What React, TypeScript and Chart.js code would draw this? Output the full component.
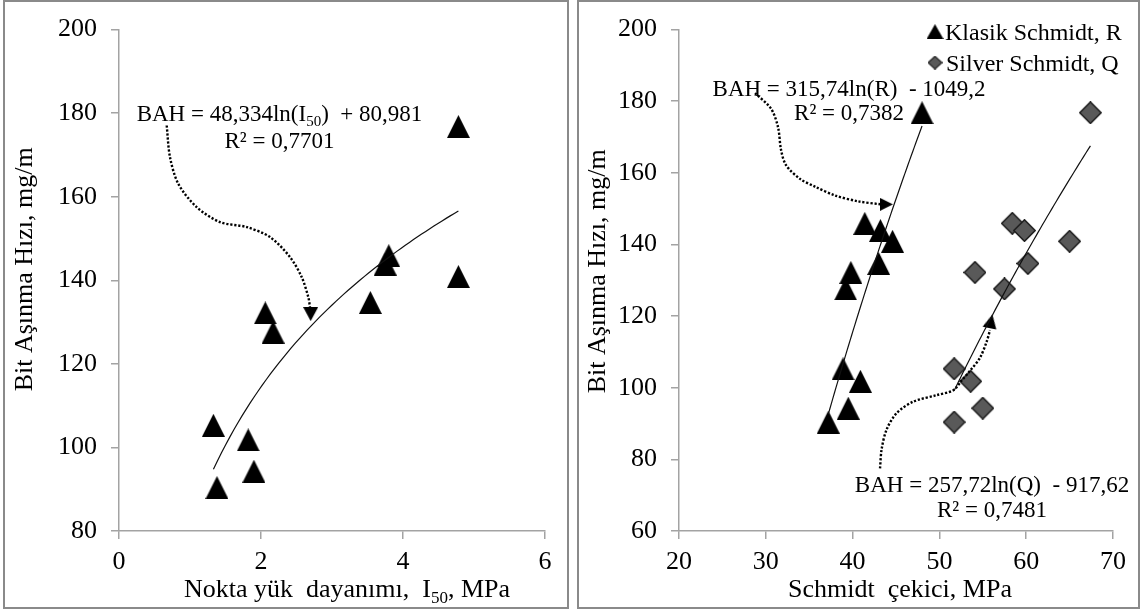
import React, { useEffect, useRef } from "react";
import { Chart, registerables } from "chart.js";

Chart.register(...registerables);

const FONT = '"Liberation Serif", "Times New Roman", serif';
const AXIS = "#a3a3a3";

// Bit wear rate (BAH, mg/m) of the samples
const BAH = [176.8, 145.9, 143.9, 140.9, 134.7, 132.2, 127.6, 105.3, 101.8, 94.3, 90.4];
// Point load strength I50 (MPa) of the same samples
const I50 = [4.78, 3.8, 3.75, 4.78, 3.54, 2.06, 2.17, 1.33, 1.82, 1.9, 1.38];
// Classic Schmidt hammer, R
const SCHMIDT_R = [48.0, 41.4, 43.2, 44.6, 43.0, 39.8, 39.2, 38.9, 40.9, 39.5, 37.2];
// Silver Schmidt hammer, Q
const SCHMIDT_Q = [67.4, 58.4, 59.8, 65.0, 60.2, 54.1, 57.5, 51.7, 53.6, 55.0, 51.7];

const LEFT_X_TICKS = [0, 2, 4, 6];
const LEFT_Y_TICKS = [80, 100, 120, 140, 160, 180, 200];
const RIGHT_X_TICKS = [20, 30, 40, 50, 60, 70];
const RIGHT_Y_TICKS = [60, 80, 100, 120, 140, 160, 180, 200];

const LEGEND_LABELS = ["Klasik Schmidt, R", "Silver Schmidt, Q"];

// logarithmic trendlines shown on the chart: y = a ln(x) + b
const FIT_I50 = { a: 48.334, b: 80.981 };
const FIT_R = { a: 315.74, b: -1049.2 };
const FIT_Q = { a: 257.72, b: -917.62 };

// dotted callout arrows (data coordinates)
const ARROW_I50 = [[0.672, 177.05], [0.718, 169.47], [0.835, 163.11], [1.094, 157.52], [1.423, 153.93], [1.799, 152.74], [2.127, 150.35], [2.408, 145.57], [2.573, 140.78], [2.666, 136.0], [2.69, 133.6]];
const ARROW_I50_HEAD = [2.7, 131.9];
const ARROW_R = [[28.76, 182.29], [30.6, 177.94], [31.41, 172.76], [31.75, 166.49], [32.33, 162.14], [33.94, 158.32], [35.67, 156.14], [37.97, 153.69], [40.62, 152.06], [43.16, 151.24]];
const ARROW_R_HEAD = [43.9, 151.2];
const ARROW_Q = [[43.16, 77.5], [43.35, 82.95], [43.93, 88.4], [45.08, 92.94], [46.99, 96.13], [49.69, 97.93], [51.6, 99.29], [52.57, 102.02], [53.53, 104.74], [54.68, 108.39], [55.45, 112.91], [55.83, 116.1]];
const ARROW_Q_HEAD = [55.94, 118.55];

type Part = { t: string; sub?: boolean };

function fitPoints(fit: { a: number; b: number }, xs: number[]) {
  const lo = Math.min(...xs);
  const hi = Math.max(...xs);
  const pts: { x: number; y: number }[] = [];
  for (let i = 0; i <= 60; i++) {
    const x = lo + ((hi - lo) * i) / 60;
    pts.push({ x, y: fit.a * Math.log(x) + fit.b });
  }
  return pts;
}

function makeMarker(kind: "tri" | "dia", w: number, h: number, fill: string, stroke: string, lw: number) {
  const c = document.createElement("canvas");
  c.width = w;
  c.height = h;
  const g = c.getContext("2d")!;
  const p = lw / 2;
  g.beginPath();
  if (kind === "tri") {
    g.moveTo(w / 2, p);
    g.lineTo(w - p, h - p);
    g.lineTo(p, h - p);
  } else {
    g.moveTo(w / 2, p);
    g.lineTo(w - p, h / 2);
    g.lineTo(w / 2, h - p);
    g.lineTo(p, h / 2);
  }
  g.closePath();
  g.fillStyle = fill;
  g.fill();
  if (lw > 0) {
    g.lineWidth = lw;
    g.strokeStyle = stroke;
    g.stroke();
  }
  return c;
}

function drawParts(ctx: CanvasRenderingContext2D, parts: Part[], x0: number, baseY: number, size: number, align: "center" | "left" = "center") {
  const subSize = Math.round(size * 0.65);
  let w = 0;
  const widths = parts.map((p) => {
    ctx.font = `${p.sub ? subSize : size}px ${FONT}`;
    const m = ctx.measureText(p.t).width;
    w += m;
    return m;
  });
  let x = align === "center" ? x0 - w / 2 : x0;
  ctx.textAlign = "left";
  ctx.textBaseline = "alphabetic";
  parts.forEach((p, i) => {
    ctx.font = `${p.sub ? subSize : size}px ${FONT}`;
    ctx.fillText(p.t, x, baseY + (p.sub ? size * 0.22 : 0));
    x += widths[i];
  });
}

function axis(ticksArr: number[], pos: "left" | "bottom", pad: number) {
  return {
    type: "linear" as const,
    position: pos,
    min: ticksArr[0],
    max: ticksArr[ticksArr.length - 1],
    afterBuildTicks: (s: any) => {
      s.ticks = ticksArr.map((v) => ({ value: v }));
    },
    ticks: {
      color: "#000",
      font: { family: FONT, size: 26 },
      padding: pad,
      maxRotation: 0,
      autoSkip: false,
    },
    grid: { drawOnChartArea: false, drawTicks: true, tickLength: 8, color: AXIS, lineWidth: 1.5 },
    border: { display: true, color: AXIS, width: 1.5 },
    afterFit: (s: any) => {
      if (pos === "left") s.width = 60;
      else s.height = 50;
    },
  };
}

const toXY = (arr: number[][]) => arr.map(([x, y]) => ({ x, y }));

export default function App() {
  const leftRef = useRef<HTMLCanvasElement>(null);
  const rightRef = useRef<HTMLCanvasElement>(null);

  useEffect(() => {
    const tri = makeMarker("tri", 23, 23, "#000", "#000", 0);
    const dia = makeMarker("dia", 23, 23, "#595959", "#1e1e1e", 1.6);
    const headL = makeMarker("tri", 15, 14, "#000", "#000", 0);
    const headR1 = makeMarker("tri", 13, 13, "#000", "#000", 0);
    const headR2 = makeMarker("tri", 14, 14, "#000", "#000", 0);
    const triLeg = makeMarker("tri", 17, 15, "#000", "#000", 0);
    const diaLeg = makeMarker("dia", 15, 14, "#595959", "#1e1e1e", 1.2);

    const lineDs = (data: any[], extra: any = {}) => ({
      data,
      showLine: true,
      pointRadius: 0,
      borderColor: "#111",
      borderWidth: 1.2,
      fill: false,
      order: 0,
      ...extra,
    });
    const arrowDs = (data: any[]) =>
      lineDs(data, { borderColor: "#000", borderWidth: 2.4, borderDash: [2.2, 1.8], tension: 0.3 });
    const headDs = (pt: number[], img: HTMLCanvasElement, rot: number) => ({
      data: [{ x: pt[0], y: pt[1] }],
      showLine: false,
      pointStyle: img,
      pointRadius: 6,
      rotation: rot,
      order: 0,
    });

    const textPluginLeft = {
      id: "leftText",
      afterDraw(chart: any) {
        const { ctx, chartArea: a, scales } = chart;
        const xs = scales.x;
        const ys = scales.y;
        ctx.save();
        ctx.fillStyle = "#000";
        // y title
        ctx.save();
        ctx.translate(a.left - 87.5, (a.top + a.bottom) / 2 - 11);
        ctx.rotate(-Math.PI / 2);
        drawParts(ctx, [{ t: "Bit Aşınma Hızı, mg/m" }], 0, 0, 26);
        ctx.restore();
        // x title
        drawParts(
          ctx,
          [{ t: "Nokta yük  dayanımı,  I" }, { t: "50", sub: true }, { t: ", MPa" }],
          (a.left + a.right) / 2 + 15,
          a.bottom + 66,
          26
        );
        // equation
        const cx = xs.getPixelForValue(2.26);
        drawParts(ctx, [{ t: "BAH = 48,334ln(I" }, { t: "50", sub: true }, { t: ")  + 80,981" }], cx, ys.getPixelForValue(178.1), 23);
        drawParts(ctx, [{ t: "R² = 0,7701" }], cx, ys.getPixelForValue(171.7), 23);
        ctx.restore();
      },
    };

    const textPluginRight = {
      id: "rightText",
      afterDraw(chart: any) {
        const { ctx, chartArea: a, scales } = chart;
        const xs = scales.x;
        const ys = scales.y;
        ctx.save();
        ctx.fillStyle = "#000";
        ctx.save();
        ctx.translate(a.left - 74, (a.top + a.bottom) / 2 - 9);
        ctx.rotate(-Math.PI / 2);
        drawParts(ctx, [{ t: "Bit Aşınma Hızı, mg/m" }], 0, 0, 26);
        ctx.restore();
        drawParts(ctx, [{ t: "Schmidt  çekici, MPa" }], (a.left + a.right) / 2 + 4, a.bottom + 66, 26);
        const c1 = xs.getPixelForValue(39.59);
        drawParts(ctx, [{ t: "BAH = 315,74ln(R)  - 1049,2" }], c1, ys.getPixelForValue(181.48), 23);
        drawParts(ctx, [{ t: "R² = 0,7382" }], c1, ys.getPixelForValue(174.67), 23);
        const c2 = xs.getPixelForValue(56.06);
        drawParts(ctx, [{ t: "BAH = 257,72ln(Q)  - 917,62" }], c2, ys.getPixelForValue(70.96), 23);
        drawParts(ctx, [{ t: "R² = 0,7481" }], c2, ys.getPixelForValue(63.88), 23);
        // legend
        const mx = a.right - 178;
        ctx.drawImage(triLeg, mx - triLeg.width / 2, a.top + 2 - triLeg.height / 2);
        ctx.drawImage(diaLeg, mx - diaLeg.width / 2, a.top + 33 - diaLeg.height / 2);
        drawParts(ctx, [{ t: LEGEND_LABELS[0] }], a.right - 168, a.top + 10, 24, "left");
        drawParts(ctx, [{ t: LEGEND_LABELS[1] }], a.right - 167, a.top + 41.5, 24, "left");
        ctx.restore();
      },
    };

    const left = new Chart(leftRef.current!, {
      type: "scatter",
      data: {
        datasets: [
          {
            label: "I50",
            data: I50.map((x, i) => ({ x, y: BAH[i] })),
            pointStyle: tri,
            pointRadius: 6,
            order: 1,
          } as any,
          lineDs(fitPoints(FIT_I50, I50)),
          arrowDs(toXY(ARROW_I50)),
          headDs(ARROW_I50_HEAD, headL, 180),
        ],
      },
      options: {
        responsive: false,
        animation: false,
        events: [],
        layout: { padding: { left: 59, right: 598, top: 29, bottom: 30 } },
        plugins: { legend: { display: false }, tooltip: { enabled: false } },
        scales: {
          x: axis(LEFT_X_TICKS, "bottom", 8),
          y: axis(LEFT_Y_TICKS, "left", 14),
        } as any,
      },
      plugins: [textPluginLeft],
    });

    const right = new Chart(rightRef.current!, {
      type: "scatter",
      data: {
        datasets: [
          {
            label: LEGEND_LABELS[0],
            data: SCHMIDT_R.map((x, i) => ({ x, y: BAH[i] })),
            pointStyle: tri,
            pointRadius: 6,
            order: 1,
          } as any,
          {
            label: LEGEND_LABELS[1],
            data: SCHMIDT_Q.map((x, i) => ({ x, y: BAH[i] })),
            pointStyle: dia,
            pointRadius: 6,
            order: 1,
          } as any,
          lineDs(fitPoints(FIT_R, SCHMIDT_R)),
          lineDs(fitPoints(FIT_Q, SCHMIDT_Q)),
          arrowDs(toXY(ARROW_R)),
          headDs(ARROW_R_HEAD, headR1, 90),
          arrowDs(toXY(ARROW_Q)),
          headDs(ARROW_Q_HEAD, headR2, 12),
        ],
      },
      options: {
        responsive: false,
        animation: false,
        events: [],
        layout: { padding: { left: 619, right: 30, top: 17, bottom: 30 } },
        plugins: { legend: { display: false }, tooltip: { enabled: false } },
        scales: {
          x: axis(RIGHT_X_TICKS, "bottom", 8),
          y: axis(RIGHT_Y_TICKS, "left", 14),
        } as any,
      },
      plugins: [textPluginRight],
    });

    return () => {
      left.destroy();
      right.destroy();
    };
  }, []);

  return (
    <div style={{ position: "fixed", left: 0, top: 0, width: 1143, height: 611, background: "#fff", overflow: "hidden" }}>
      <div style={{ position: "absolute", left: 3, top: 0, width: 566, height: 609, border: "2px solid #8a8a8a", boxSizing: "border-box" }} />
      <div style={{ position: "absolute", left: 577, top: 0, width: 563, height: 609, border: "2px solid #8a8a8a", boxSizing: "border-box" }} />
      <canvas ref={leftRef} width={1143} height={611} style={{ position: "absolute", left: 0, top: 0 }} />
      <canvas ref={rightRef} width={1143} height={611} style={{ position: "absolute", left: 0, top: 0 }} />
    </div>
  );
}
